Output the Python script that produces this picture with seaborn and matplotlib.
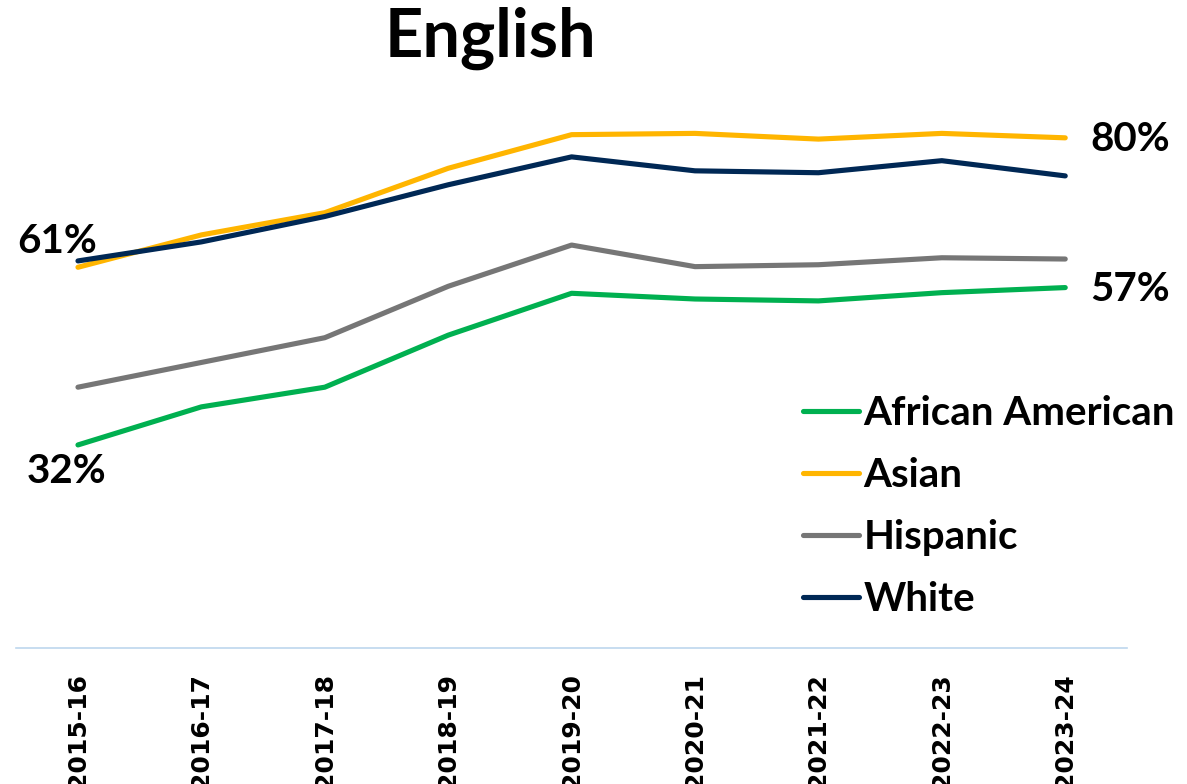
import pandas as pd
import numpy as np
import matplotlib.pyplot as plt
import seaborn as sns

# school years on the x axis
years = ['2015-16', '2016-17', '2017-18', '2018-19', '2019-20',
         '2020-21', '2021-22', '2022-23', '2023-24']

# percent proficient in English
african_american = [32.0, 38.0, 41.1, 49.3, 55.9, 55.0, 54.7, 56.0, 56.8]
asian = [60.0, 65.1, 68.6, 75.6, 80.9, 81.1, 80.2, 81.1, 80.4]
hispanic = [41.1, 45.0, 48.9, 57.0, 63.5, 60.1, 60.4, 61.5, 61.3]
white = [61.0, 64.0, 68.0, 73.0, 77.4, 75.2, 74.9, 76.8, 74.4]

groups = ['African American', 'Asian', 'Hispanic', 'White']
colors = ['#00B050', '#FFB500', '#767676', '#002855']

# long format for seaborn
df = pd.DataFrame({
    'year': years * 4,
    'pct': african_american + asian + hispanic + white,
    'group': np.repeat(groups, len(years)),
})

sns.set_style('white')
plt.rcParams['font.family'] = ['Lato', 'DejaVu Sans']
plt.rcParams['text.color'] = 'black'
plt.rcParams['xtick.color'] = 'black'

fig = plt.figure(figsize=(11.87, 7.84), dpi=100)
ax = fig.add_axes([0.0137, 0.1735, 0.9357, 0.7122])

sns.lineplot(data=df, x='year', y='pct', hue='group', hue_order=groups,
             palette=dict(zip(groups, colors)), linewidth=3.7, sort=False,
             legend=False, ax=ax, solid_capstyle='round')

ax.set_xlim(-0.5, 8.5)
ax.set_ylim(0, 88)
ax.set_xlabel('')
ax.set_ylabel('')
ax.set_yticks([])

for s in ['top', 'left', 'right']:
    ax.spines[s].set_visible(False)
ax.spines['bottom'].set_color('#BDD7EE')
ax.spines['bottom'].set_linewidth(1.2)

ax.tick_params(axis='x', length=0, pad=18)
ax.set_xticks(range(len(years)))
ax.set_xticklabels(years, rotation=90, fontsize=18, fontweight='bold',
                   family='DejaVu Sans', va='top', ha='center')

# start / end value labels
lab_kw = dict(textcoords='offset pixels', fontsize=29, fontweight='bold',
              va='center')
ax.annotate(f'{white[0]:.0f}%', (0, white[0]), xytext=(-21, 19), ha='center', **lab_kw)
ax.annotate(f'{african_american[0]:.0f}%', (0, african_american[0]), xytext=(-11, -27), ha='center', **lab_kw)
ax.annotate(f'{asian[-1]:.0f}%', (8, asian[-1]), xytext=(25, -2), ha='left', **lab_kw)
ax.annotate(f'{african_american[-1]:.0f}%', (8, african_american[-1]), xytext=(25, -2), ha='left', **lab_kw)

# legend
handles = [plt.Line2D([], [], color=c, linewidth=3.7, solid_capstyle='round') for c in colors]
fig.legend(handles, groups, loc='upper left', bbox_to_anchor=(803 / 1187, 1 - 395 / 784),
           frameon=False, borderpad=0, borderaxespad=0, handlelength=1.38,
           handletextpad=0.12, labelspacing=0.62,
           prop={'size': 29, 'weight': 'bold'})

fig.text(490 / 1187, 1 - 57 / 784, 'English', ha='center', va='baseline',
         fontsize=48, fontweight='bold')

fig.savefig('out.png', dpi=100)
